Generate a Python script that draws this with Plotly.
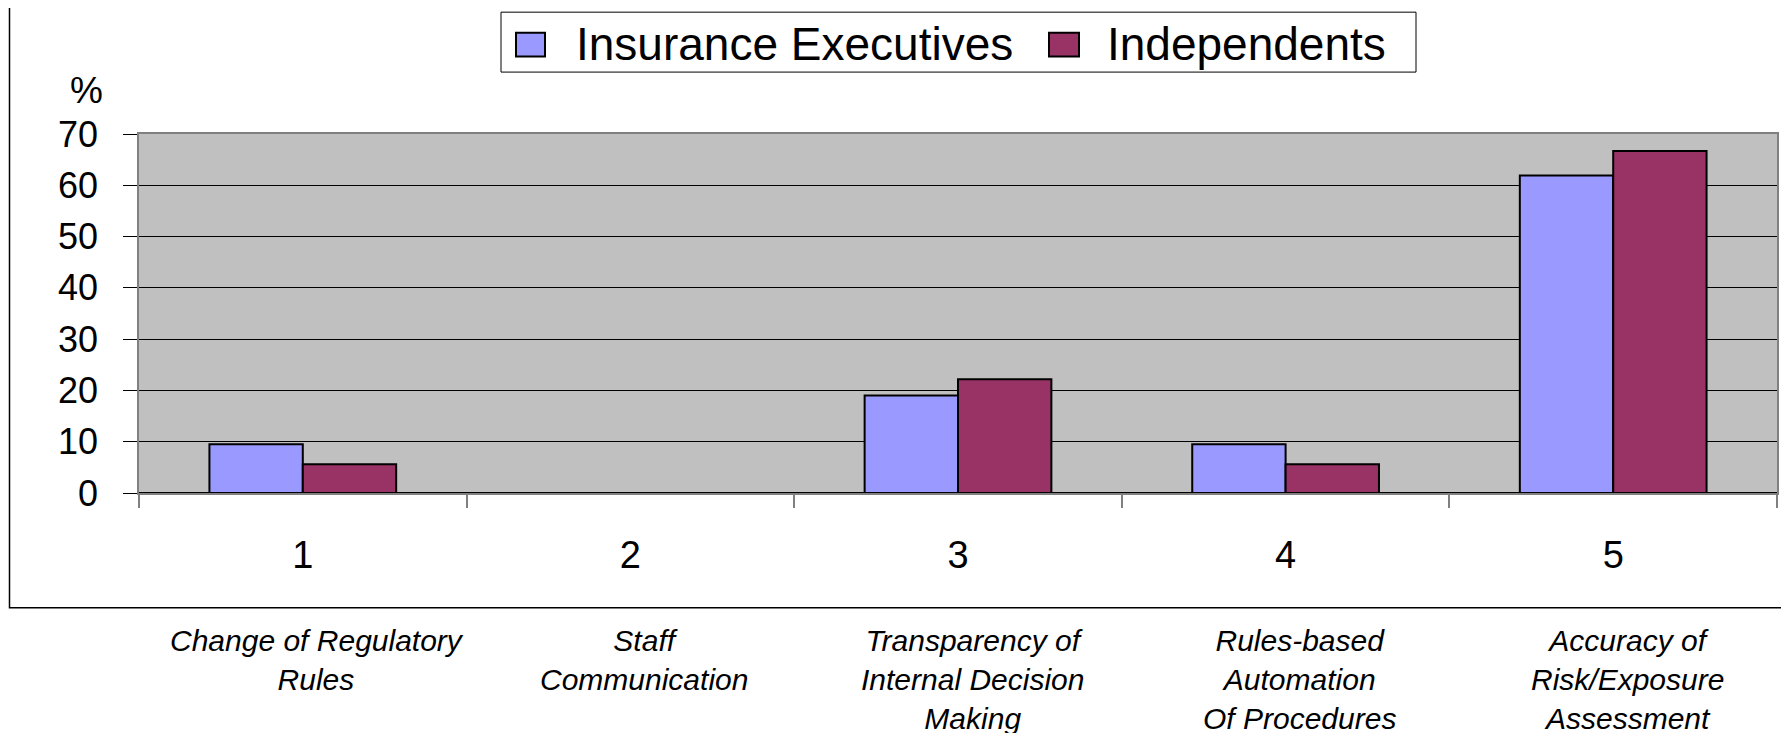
import plotly.graph_objects as go

# ---- data ----
categories = [1, 2, 3, 4, 5]
category_labels = ["1", "2", "3", "4", "5"]
category_names = [
    "Change of Regulatory<br>Rules",
    "Staff<br>Communication",
    "Transparency of<br>Internal Decision<br>Making",
    "Rules-based<br>Automation<br>Of Procedures",
    "Accuracy of<br>Risk/Exposure<br>Assessment",
]
series_names = ["Insurance Executives", "Independents"]
series_colors = ["#9999FF", "#993366"]
insurance_executives = [9.5, 0, 19.0, 9.5, 61.9]
independents = [5.6, 0, 22.2, 5.6, 66.7]
y_ticks = [0, 10, 20, 30, 40, 50, 60, 70]

# ---- geometry (page pixels; the page body adds an 8px offset) ----
OFF = 8
W, H = 1789 - OFF, 733 - OFF
P_L, P_R, P_T, P_B = 139, 1777, 133.5, 493          # plot area in page px
ML, MR, MT, MB = P_L - OFF, W - (P_R - OFF), P_T - OFF, H - (P_B - OFF)
PW = P_R - P_L
PH = P_B - P_T


def xp(px):
    """page px -> paper x"""
    return (px - P_L) / PW


def yp(py):
    """page px -> paper y"""
    return (P_B - py) / PH


FONT = "Liberation Sans, Arial, sans-serif"

fig = go.Figure()
for name, vals, col in zip(series_names, [insurance_executives, independents], series_colors):
    fig.add_trace(go.Bar(
        x=categories, y=vals, name=name, showlegend=False,
        marker=dict(color=col, line=dict(color="#000000", width=2)),
    ))

# category descriptions below the chart
for c, name in zip(categories, category_names):
    fig.add_annotation(
        x=c, xref="x", y=yp(622), yref="paper", yanchor="top",
        text="<i>" + name + "</i>", showarrow=False, xshift=14,
        font=dict(family=FONT, size=30, color="#000000"), align="center",
    )

# "%" label above y axis
fig.add_annotation(
    x=xp(86), y=yp(90), xref="paper", yref="paper",
    text="%", showarrow=False, xanchor="center", yanchor="middle",
    font=dict(family=FONT, size=37, color="#000000"),
)

# outer chart frame (left and bottom visible)
fig.add_shape(
    type="rect", xref="paper", yref="paper",
    x0=xp(9.5), x1=xp(1810), y0=yp(608), y1=yp(-20),
    line=dict(color="#000000", width=1.5), fillcolor="rgba(0,0,0,0)", layer="below",
)

# legend (box, swatches, labels)
fig.add_shape(
    type="rect", xref="paper", yref="paper",
    x0=xp(501), x1=xp(1416), y0=yp(71.5), y1=yp(11.5),
    line=dict(color="#000000", width=1), fillcolor="#FFFFFF",
)
legend_swatch_x = [(516, 545), (1049, 1079)]
legend_text_x = [794, 1246]
for (sx0, sx1), tx, name, col in zip(legend_swatch_x, legend_text_x, series_names, series_colors):
    fig.add_shape(
        type="rect", xref="paper", yref="paper",
        x0=xp(sx0), x1=xp(sx1), y0=yp(56), y1=yp(32),
        line=dict(color="#000000", width=2), fillcolor=col,
    )
    fig.add_annotation(
        x=xp(tx), y=yp(43), xref="paper", yref="paper",
        text=name, showarrow=False, xanchor="center", yanchor="middle",
        font=dict(family=FONT, size=46, color="#000000"),
    )

fig.update_layout(
    width=W, height=H,
    margin=dict(l=ML, r=MR, t=MT, b=MB, autoexpand=False),
    paper_bgcolor="#FFFFFF", plot_bgcolor="#C0C0C0",
    barmode="group", bargap=0.43, bargroupgap=0,
    font=dict(family=FONT, color="#000000"),
    showlegend=False,
    xaxis=dict(
        range=[0.5, 5.5], tickmode="array", tickvals=categories, ticktext=category_labels,
        ticks="", showgrid=False, zeroline=False,
        showline=True, linecolor="#808080", linewidth=1.5, mirror=True,
        tickfont=dict(family=FONT, size=38, color="#000000"),
        ticklabelstandoff=28,
        minor=dict(tickmode="array", tickvals=[0.5, 1.5, 2.5, 3.5, 4.5, 5.5],
                   ticks="outside", ticklen=13, tickcolor="#808080", tickwidth=1.5,
                   showgrid=False),
    ),
    yaxis=dict(
        range=[0, 70], tickmode="array", tickvals=y_ticks,
        ticks="outside", ticklen=14, tickcolor="#000000", tickwidth=1,
        showgrid=True, gridcolor="#000000", gridwidth=1,
        zeroline=True, zerolinecolor="#000000", zerolinewidth=1.5,
        showline=True, linecolor="#808080", linewidth=1.5, mirror=True,
        tickfont=dict(family=FONT, size=36, color="#000000"),
        ticklabelstandoff=18,
    ),
)

fig.write_html("out.html")
